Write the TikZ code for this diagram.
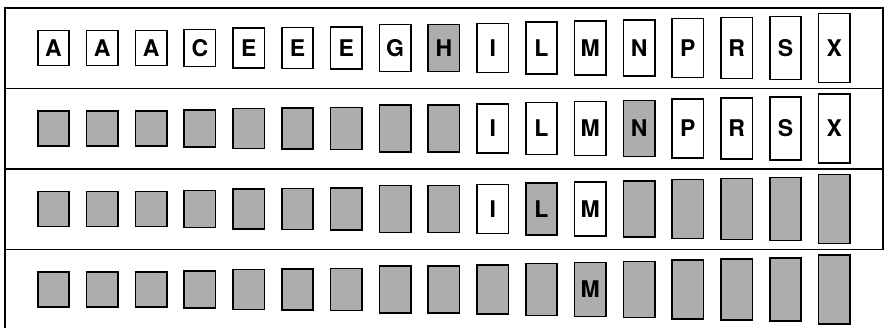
\documentclass[tikz,border=0pt]{standalone}
\usepackage{fontspec}
\newfontfamily\keyfont{TeX Gyre Heros}
\tikzset{
  key/.style={draw,line width=1.6pt,minimum width=31.5pt,inner sep=0pt,
    font=\keyfont\bfseries\fontsize{23}{23}\selectfont},
  gone/.style={key,fill=black!32},
  rule/.style={line width=1.1pt},
}
% box heights, left to right
\def\keyh{{35,35,35,37,40,41,42,47,47,49,52,54,56,59,61,63,69}}
% one row of keys: row, centre y, list of letter/style
\newcommand\keyrow[3]{%
  \foreach \t/\s [count=\i from 0] in {#3} {
    \pgfmathsetmacro\h{\keyh[\i]}
    \node[\s,minimum height=\h pt] (k#1-\i) at (53.5+48.8*\i,#2) {\t};
  }}
\begin{document}
\begin{tikzpicture}[x=1pt,y=-1pt]
\useasboundingbox (0,0) rectangle (886,327);
% frame
\draw[rule] (5,330) -- (5,8) -- (883,8) -- (883,249.5);
\foreach \y in {88.5,169,249.5}
  \draw[rule] (5,\y) -- (883,\y);
% rows
\keyrow{1}{48}{A/key,A/key,A/key,C/key,E/key,E/key,E/key,G/key,H/gone,I/key,L/key,M/key,N/key,P/key,R/key,S/key,X/key}
\keyrow{2}{128.5}{{}/gone,{}/gone,{}/gone,{}/gone,{}/gone,{}/gone,{}/gone,{}/gone,{}/gone,I/key,L/key,M/key,N/gone,P/key,R/key,S/key,X/key}
\keyrow{3}{209}{{}/gone,{}/gone,{}/gone,{}/gone,{}/gone,{}/gone,{}/gone,{}/gone,{}/gone,I/key,L/gone,M/key,{}/gone,{}/gone,{}/gone,{}/gone,{}/gone}
\keyrow{4}{289.5}{{}/gone,{}/gone,{}/gone,{}/gone,{}/gone,{}/gone,{}/gone,{}/gone,{}/gone,{}/gone,{}/gone,M/gone,{}/gone,{}/gone,{}/gone,{}/gone,{}/gone}
\end{tikzpicture}
\end{document}
